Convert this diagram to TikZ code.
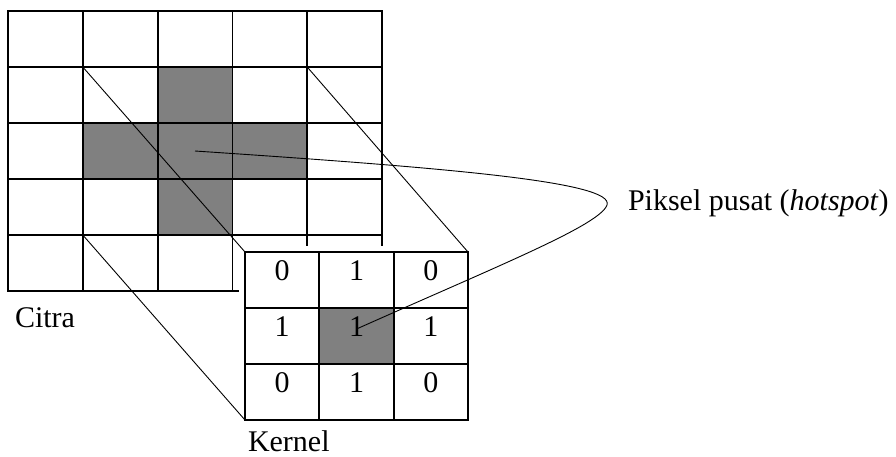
\documentclass[tikz,border=0pt]{standalone}
\usepackage{fontspec}
\setmainfont{Liberation Serif}
\usetikzlibrary{calc}
\definecolor{cellgray}{HTML}{808080}
\tikzset{
  gridcell/.style={draw=black, line width=1.8pt, inner sep=0pt, outer sep=0pt,
    minimum width=74.8pt, minimum height=56pt},
  kcell/.style={draw=black, line width=1.8pt, inner sep=0pt, outer sep=0pt,
    minimum width=74.33pt, minimum height=56pt, fill=white},
  link/.style={draw=black, line width=0.9pt},
  lbl/.style={inner sep=0pt, outer sep=0pt, font=\fontsize{30}{32}\selectfont},
  digit/.style={inner sep=0pt, outer sep=0pt, font=\fontsize{30}{32}\selectfont, anchor=base}
}
\begin{document}
\begin{tikzpicture}[x=1pt,y=-1pt]
\useasboundingbox (0,0) rectangle (896,456);

% 5x5 image grid, cells named c<row><col>
\foreach \r in {1,...,5}{
  \foreach \c in {1,...,5}{
    \node[gridcell] (c\r\c) at ({8+74.8*(\c-0.5)},{11+56*(\r-0.5)}) {};
  }
}
% shaded cross of the image
\foreach \n in {c23,c32,c33,c34,c43}{
  \fill[cellgray] (\n.north west) rectangle (\n.south east);
}
\foreach \r in {1,...,5}{
  \foreach \c in {1,...,5}{
    \node[gridcell] at (c\r\c) {};
  }
}

% white margin around the kernel
\fill[white] (239,246) rectangle (470,422);

% projection lines from the 3x3 window to the kernel
\coordinate (kNW) at (245,252);
\coordinate (kNE) at (468,252);
\coordinate (kSW) at (245,420);
\draw[link] (c22.north west) -- (kNW);
\draw[link] (c24.north east) -- (kNE);
\draw[link] (c42.south west) -- (kSW);

% 3x3 kernel, cells named k<row><col>
\foreach \r/\c/\v in {1/1/0,1/2/1,1/3/0,2/1/1,2/2/1,2/3/1,3/1/0,3/2/1,3/3/0}{
  \node[kcell] (k\r\c) at ({245+74.33*(\c-0.5)},{252+56*(\r-0.5)}) {};
}
\fill[cellgray] (k22.north west) rectangle (k22.south east);
\foreach \r/\c/\v in {1/1/0,1/2/1,1/3/0,2/1/1,2/2/1,2/3/1,3/1/0,3/2/1,3/3/0}{
  \node[kcell, fill=none] at (k\r\c) {};
  \node[digit] (d\r\c) at ($(k\r\c.north)+(0,28.5)$) {\v};
}

% hotspot label and its leader
\node[lbl, anchor=base west] (hot) at (628,210) {Piksel pusat (\textit{hotspot})};
\coordinate (hs) at ([yshift=7pt]k22.center);
\draw[link] (c33.center) .. controls (450,168) and (615,182) .. (607,205)
  .. controls (600,225) and (500,265) .. (hs);

% captions
\node[lbl, anchor=base west] (citra) at (15,327) {Citra};
\node[lbl, anchor=base west] (kernel) at (248,451) {Kernel};
\end{tikzpicture}
\end{document}
